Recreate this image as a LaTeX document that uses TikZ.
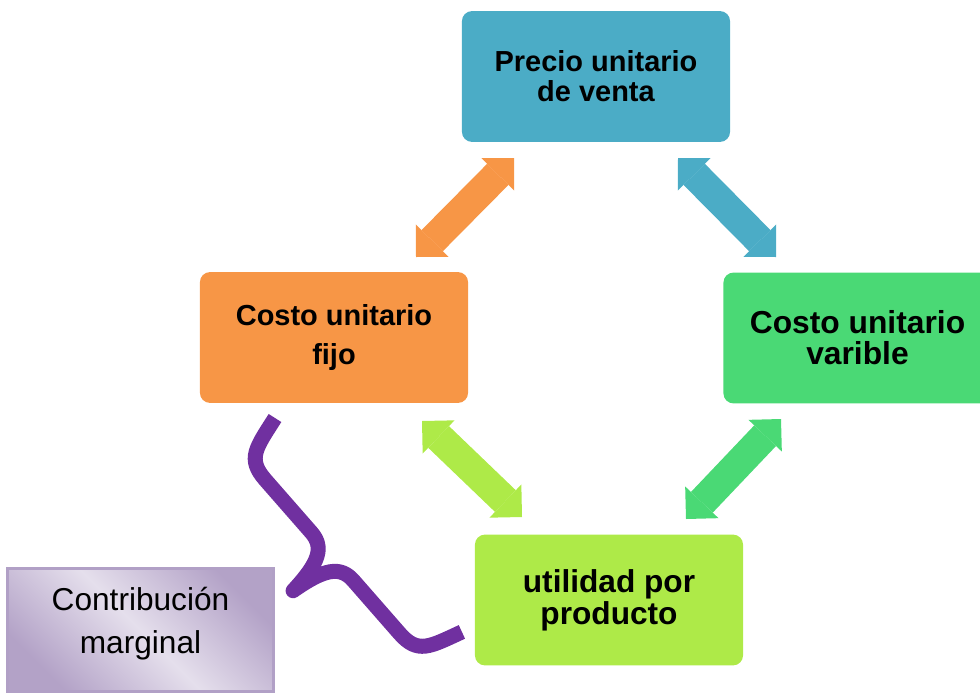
\documentclass[tikz,border=0pt]{standalone}
\usepackage{fontspec}
\setmainfont{Liberation Sans}
\usetikzlibrary{arrows.meta}

\definecolor{precioblue}{HTML}{4BACC6}
\definecolor{fijoorange}{HTML}{F79646}
\definecolor{varigreen}{HTML}{4AD975}
\definecolor{utilgreen}{HTML}{AEEA48}
\definecolor{bracepurple}{HTML}{7030A0}
\definecolor{lavlight}{HTML}{E5DFEC}
\definecolor{lavdark}{HTML}{B3A2C7}
\definecolor{lavborder}{HTML}{B1A0C6}

\begin{document}
\begin{tikzpicture}[x=0.025cm, y=-0.025cm,
    card/.style={rounded corners=0.25cm, minimum width=6.7cm, minimum height=3.27cm,
                 inner sep=0pt, align=center},
    dblarrow/.style={line width=0.75cm,
                 {Triangle[length=0.575cm, width=1.15cm, line width=0pt]}-{Triangle[length=0.575cm, width=1.15cm, line width=0pt]}}]
  \useasboundingbox (0,0) rectangle (980,692);
  \clip (0,0) rectangle (980,692);

  % the four boxes of the cycle
  \node[card, fill=precioblue, font={\fontsize{20.6}{21.5}\selectfont\bfseries}]
    (precio) at (596,76.5) {Precio unitario\\de venta};
  \node[card, fill=fijoorange, font={\fontsize{20.6}{27.7}\selectfont\bfseries}]
    (fijo) at (334,337.5) {Costo unitario\\fijo};
  \node[card, fill=varigreen, font={\fontsize{22.6}{22}\selectfont\bfseries}]
    (varible) at (857.5,338) {Costo unitario\\varible};
  \node[card, fill=utilgreen, font={\fontsize{22.5}{22.5}\selectfont\bfseries}]
    (utilidad) at (609,600) {utilidad por\\producto};

  % double arrows between them
  \coordinate (fijoend) at (416,257);   \coordinate (precioendl) at (514,158);
  \coordinate (precioendr) at (678,158); \coordinate (variendt) at (776,257);
  \coordinate (fijoendb) at (422,421);  \coordinate (utilendl) at (522,517);
  \coordinate (variendb) at (781,419);  \coordinate (utilendr) at (686,519);
  \draw[dblarrow, fijoorange] (fijoend) -- (precioendl);
  \draw[dblarrow, precioblue] (precioendr) -- (variendt);
  \draw[dblarrow, utilgreen] (fijoendb) -- (utilendl);
  \draw[dblarrow, varigreen] (variendb) -- (utilendr);

  % brace and its label
  \draw[bracepurple, line width=0.375cm, line join=round]
    (275,418) .. controls (256,448) and (246.8,458.6) .. (265.2,479.7)
    -- (311.3,532.4) .. controls (324.4,547.5) and (319.1,562.7) .. (293.1,590.7)
    .. controls (324.4,568.7) and (340.2,565.6) .. (353.4,580.6)
    -- (399.5,633.3) .. controls (417.9,654.4) and (429.7,646.7) .. (461.9,631.9);
  \node[draw=lavborder, line width=0.075cm, minimum width=6.625cm, minimum height=3.05cm,
        inner sep=0pt, align=center, top color=lavdark, bottom color=lavdark,
        middle color=lavlight, shading angle=-45, font={\fontsize{22.5}{30.6}\selectfont}]
    (contrib) at (140.5,630) {Contribución\\marginal\rule[-0.5cm]{0pt}{0pt}};
\end{tikzpicture}
\end{document}
